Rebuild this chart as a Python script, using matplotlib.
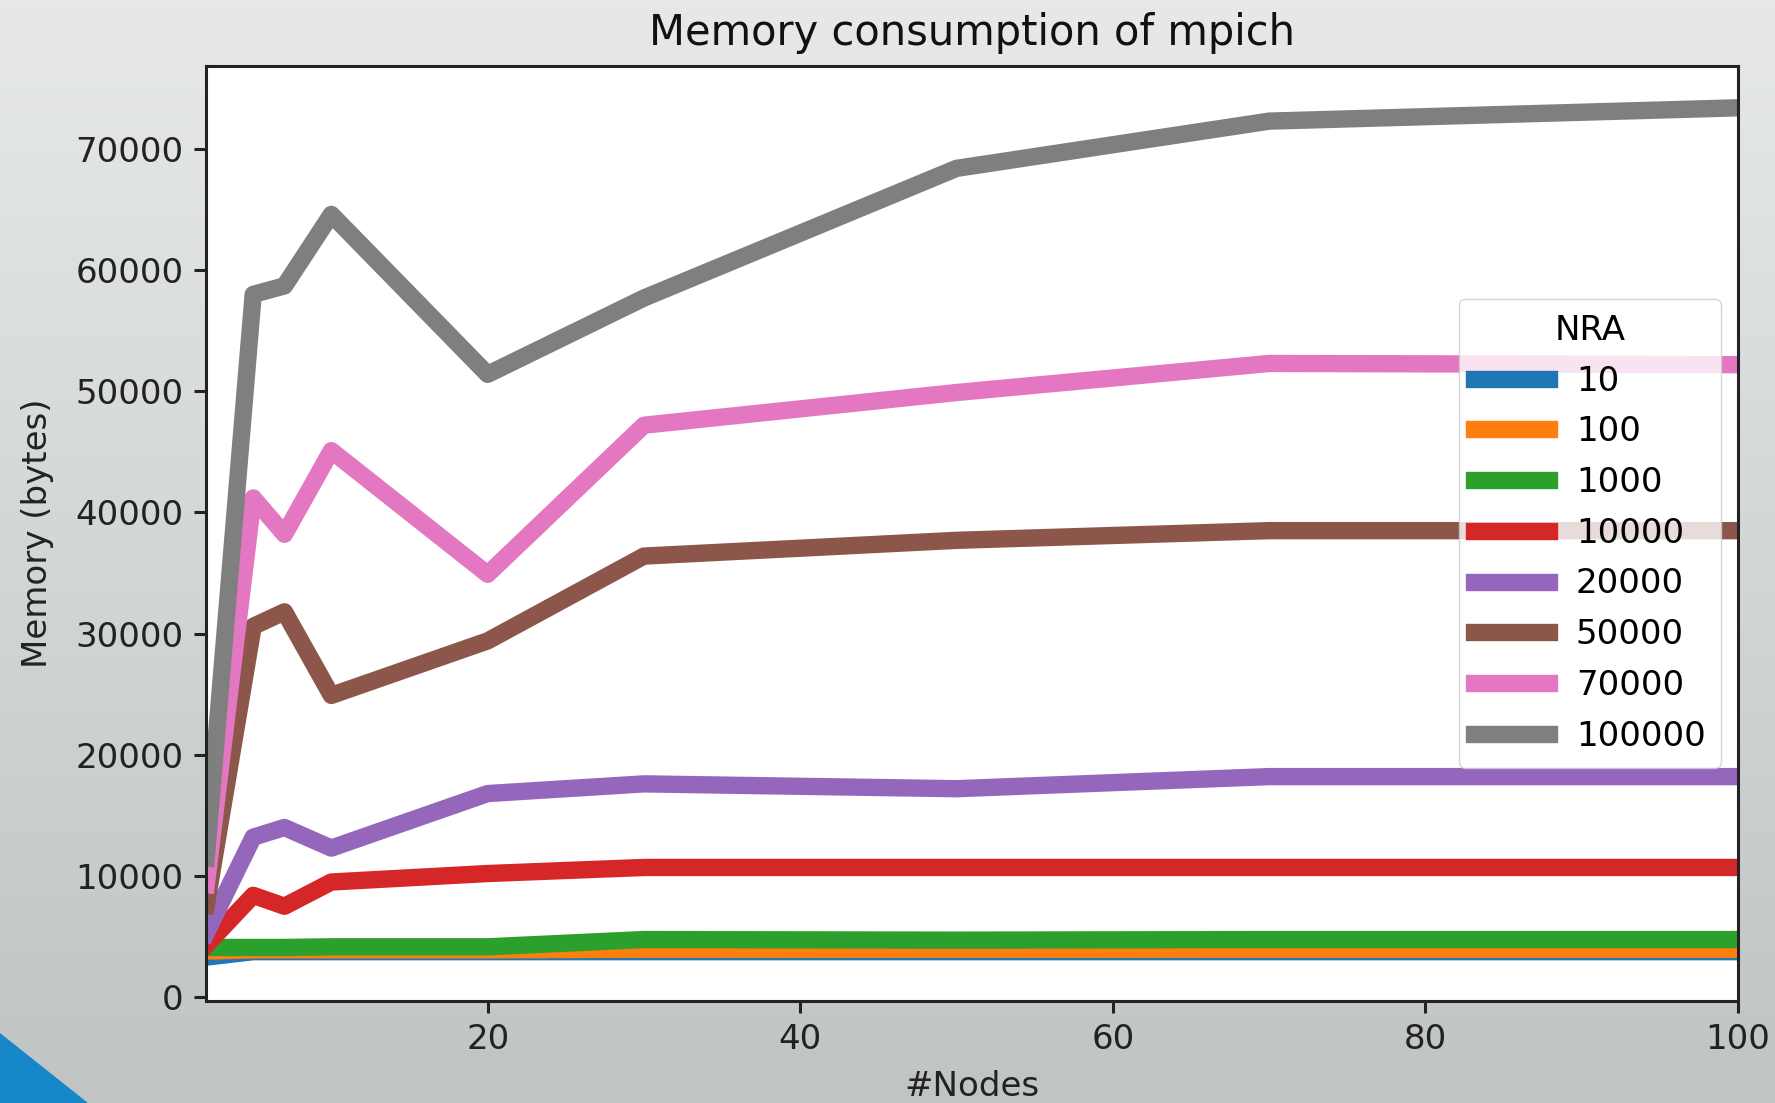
import numpy as np
import matplotlib

matplotlib.use('Agg')  # no display
import matplotlib.pyplot as plt
from matplotlib.patches import Polygon

# x axis: number of nodes
nodes = [2, 5, 7, 10, 20, 30, 50, 70, 100]

# memory (bytes) per NRA value
nra_labels = ['10', '100', '1000', '10000', '20000', '50000', '70000', '100000']
mem_10 = [3300, 3750, 3750, 3750, 3750, 3750, 3750, 3750, 3750]
mem_100 = [3800, 3900, 3900, 3900, 3900, 3950, 3950, 3950, 3950]
mem_1000 = [4100, 4100, 4100, 4150, 4150, 4750, 4700, 4750, 4750]
mem_10000 = [4300, 8400, 7500, 9500, 10200, 10700, 10700, 10700, 10700]
mem_20000 = [5300, 13200, 14000, 12300, 16800, 17600, 17200, 18200, 18200]
mem_50000 = [7600, 30600, 31800, 24900, 29400, 36400, 37700, 38500, 38500]
mem_70000 = [9300, 41200, 38200, 45100, 34900, 47200, 49900, 52300, 52200]
mem_100000 = [11500, 58000, 58700, 64600, 51400, 57700, 68400, 72300, 73400]

series = [mem_10, mem_100, mem_1000, mem_10000,
          mem_20000, mem_50000, mem_70000, mem_100000]
colors = ['tab:blue', 'tab:orange', 'tab:green', 'tab:red',
          'tab:purple', 'tab:brown', 'tab:pink', 'tab:gray']

W, H = 1775, 1103
fig = plt.figure(figsize=(W / 100, H / 100), dpi=100)

# slide background: grey gradient + blue corner
bg = fig.add_axes([0, 0, 1, 1], zorder=-10)
top = np.array([231, 233, 233]) / 255
bot = np.array([192, 196, 197]) / 255
t = np.linspace(0, 1, 256)[:, None]
grad = top[None, :] * (1 - t) + bot[None, :] * t
img = np.repeat(grad[:, None, :], 4, axis=1)
bg.imshow(img, aspect='auto', extent=[0, W, H, 0])
bg.add_patch(Polygon([[0, 1033], [88, H], [0, H]], closed=True,
                     color='#1688c9', lw=0))
bg.set_xlim(0, W)
bg.set_ylim(H, 0)
bg.axis('off')

ax = fig.add_axes([206.3 / W, 1 - 1000.5 / H, (1738 - 206.3) / W, (1000.5 - 66) / H])
ax.set_facecolor('white')

for vals, col, lab in zip(series, colors, nra_labels):
    ax.plot(nodes, vals, color=col, linewidth=12.5, label=lab)

ax.set_xlim(nodes[0], nodes[-1])
ax.set_ylim(-280, 76850)
ax.set_xticks([20, 40, 60, 80, 100])
ax.set_yticks(np.arange(0, 70001, 10000))

for s in ax.spines.values():
    s.set_linewidth(2.2)
    s.set_color('#222222')
ax.tick_params(labelsize=24.5, length=8.5, width=2.2, pad=8, colors='#222222')

ax.set_title('Memory consumption of mpich', fontsize=30, pad=15, color='#111111')
ax.set_xlabel('#Nodes', fontsize=24.5, labelpad=10, color='#222222')
ax.set_ylabel('Memory (bytes)', fontsize=24.5, labelpad=15, color='#222222')

leg = ax.legend(title='NRA', loc='center right', fontsize=24.5, title_fontsize=24.5,
                handlelength=2.2, labelspacing=0.52, framealpha=0.8,
                edgecolor='0.8', borderaxespad=0.5, borderpad=0.45)
for h in leg.legend_handles:
    h.set_linewidth(12.5)

fig.savefig('out.png', dpi=100)
